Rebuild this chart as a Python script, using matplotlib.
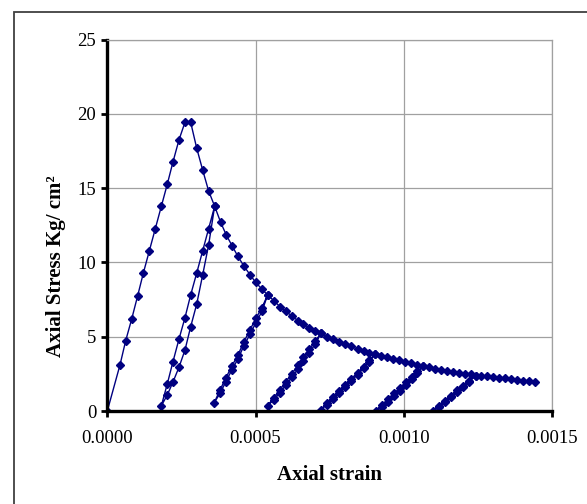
import numpy as np
import matplotlib
matplotlib.use("Agg")
import matplotlib.pyplot as plt
from matplotlib.patches import Rectangle

plt.rcParams['font.family'] = ['Liberation Serif', 'DejaVu Serif']

# strain values are given in units of 1e-4, stress in Kg/cm2
# rising branch, peak and first part of softening (up to loop A apex)
rise_strain = [0, 0.428, 0.620, 0.823, 1.025, 1.214, 1.416, 1.618, 1.821,
               2.023, 2.215, 2.417, 2.620, 2.812, 3.014, 3.216, 3.419, 3.621]
rise_stress = [0, 3.10, 4.73, 6.19, 7.76, 9.27, 10.77, 12.25, 13.78,
               15.26, 16.76, 18.24, 19.43, 19.43, 17.70, 16.22, 14.80, 13.78]

# loop A: unload then reload
loop_a_strain = [3.419, 3.216, 3.014, 2.812, 2.620, 2.417, 2.215, 2.023, 1.821,
                 2.023, 2.215, 2.417, 2.620, 2.812, 3.014, 3.216, 3.419, 3.621]
loop_a_stress = [11.19, 9.15, 7.18, 5.67, 4.10, 2.94, 1.95, 1.08, 0.34,
                 1.82, 3.32, 4.83, 6.28, 7.81, 9.27, 10.77, 12.25, 13.78]

env_b_strain = [3.823, 4.012, 4.214, 4.407, 4.609, 4.811, 5.003, 5.216, 5.408]
env_b_stress = [12.70, 11.85, 11.10, 10.40, 9.75, 9.18, 8.66, 8.20, 7.81]

loop_b_strain = [5.216, 5.013, 4.811, 4.609, 4.407, 4.204, 4.002, 3.800, 3.607,
                 3.800, 4.002, 4.204, 4.407, 4.609, 4.811, 5.013, 5.216, 5.408]
loop_b_stress = [6.70, 5.95, 5.15, 4.40, 3.50, 2.78, 1.98, 1.18, 0.56,
                 1.41, 2.24, 3.03, 3.77, 4.66, 5.45, 6.24, 6.95, 7.81]

env_c_strain = [5.620, 5.823, 6.025, 6.227, 6.430, 6.608, 6.810, 7.013, 7.205]
env_c_stress = [7.42, 7.02, 6.71, 6.39, 6.08, 5.85, 5.61, 5.38, 5.23]

loop_c_strain = [7.013, 6.810, 6.608, 6.430, 6.227, 6.025, 5.823, 5.620, 5.408,
                 5.620, 5.823, 6.025, 6.227, 6.430, 6.608, 6.810, 7.013, 7.205]
loop_c_stress = [4.50, 3.92, 3.36, 2.82, 2.28, 1.75, 1.24, 0.76, 0.36,
                 0.90, 1.44, 1.98, 2.52, 3.07, 3.61, 4.15, 4.69, 5.23]

env_d_strain = [7.407, 7.620, 7.822, 8.024, 8.226, 8.442, 8.645, 8.833, 9.036]
env_d_stress = [5.00, 4.83, 4.64, 4.49, 4.35, 4.17, 4.04, 3.92, 3.82]

loop_d_strain = [8.833, 8.645, 8.442, 8.226, 8.024, 7.822, 7.620, 7.407, 7.205,
                 7.407, 7.620, 7.822, 8.024, 8.226, 8.442, 8.645, 8.833, 9.036]
loop_d_stress = [3.30, 2.88, 2.45, 2.03, 1.62, 1.20, 0.80, 0.42, 0.10,
                 0.51, 0.93, 1.34, 1.75, 2.17, 2.58, 2.99, 3.41, 3.82]

env_e_strain = [9.238, 9.440, 9.642, 9.845, 10.047, 10.249, 10.452, 10.654]
env_e_stress = [3.70, 3.61, 3.50, 3.41, 3.30, 3.21, 3.12, 3.03]

loop_e_strain = [10.458, 10.261, 10.064, 9.868, 9.671, 9.474, 9.277, 9.080,
                 9.277, 9.474, 9.671, 9.868, 10.064, 10.261, 10.458, 10.654]
loop_e_stress = [2.55, 2.15, 1.76, 1.37, 0.99, 0.62, 0.30, 0.0,
                 0.42, 0.80, 1.18, 1.55, 1.92, 2.29, 2.66, 3.03]

env_f_strain = [10.856, 11.059, 11.251, 11.453, 11.655, 11.858, 12.060, 12.262, 12.421]
env_f_stress = [2.94, 2.85, 2.78, 2.71, 2.64, 2.58, 2.52, 2.46, 2.38]

loop_f_strain = [12.217, 12.012, 11.808, 11.603, 11.399, 11.194, 10.990,
                 11.194, 11.399, 11.603, 11.808, 12.012, 12.217, 12.421]
loop_f_stress = [1.98, 1.62, 1.27, 0.92, 0.58, 0.26, 0.0,
                 0.36, 0.70, 1.04, 1.38, 1.71, 2.05, 2.38]

tail_strain = [12.609, 12.812, 13.014, 13.216, 13.418, 13.621, 13.823, 14.025, 14.228, 14.430]
tail_stress = [2.36, 2.33, 2.29, 2.24, 2.19, 2.15, 2.10, 2.05, 2.00, 1.92]

x_ticks = [0, 0.0005, 0.0010, 0.0015]
y_ticks = [0, 5, 10, 15, 20, 25]

# join everything in test order, like a single spreadsheet series
strain = np.concatenate([rise_strain, loop_a_strain, env_b_strain, loop_b_strain,
                         env_c_strain, loop_c_strain, env_d_strain, loop_d_strain,
                         env_e_strain, loop_e_strain, env_f_strain, loop_f_strain,
                         tail_strain]) * 1e-4
stress = np.concatenate([rise_stress, loop_a_stress, env_b_stress, loop_b_stress,
                         env_c_stress, loop_c_stress, env_d_stress, loop_d_stress,
                         env_e_stress, loop_e_stress, env_f_stress, loop_f_stress,
                         tail_stress])

fig = plt.figure(figsize=(5.87, 5.04), dpi=100)
ax = fig.add_axes([107.3 / 587, 1 - 411 / 504, (552 - 107.3) / 587, (411 - 39.5) / 504])

# outer chart frame (right and bottom edges fall outside the picture)
fig.add_artist(Rectangle((14 / 587, -0.1), 1.2, 1 - 12 / 504 + 0.1,
                         transform=fig.transFigure, fill=False,
                         edgecolor='#404040', linewidth=1.3))

ax.plot(strain, stress, color='#000080', linewidth=1.0, marker='D',
        markersize=3.8, markerfacecolor='#000080', markeredgecolor='#000080',
        clip_on=True)

ax.set_xlim(0, 0.0015)
ax.set_ylim(0, 25)
ax.set_xticks(x_ticks)
ax.set_xticklabels([f'{v:.4f}' for v in x_ticks])
ax.set_yticks(y_ticks)

ax.grid(True, color='#a0a0a0', linewidth=0.9)
ax.set_axisbelow(True)

for side in ['top', 'right']:
    ax.spines[side].set_color('#a0a0a0')
    ax.spines[side].set_linewidth(0.9)
for side in ['left', 'bottom']:
    ax.spines[side].set_color('black')
    ax.spines[side].set_linewidth(2.4)

ax.tick_params(axis='both', direction='out', length=4, width=2, colors='black',
               labelsize=13.5)
ax.tick_params(axis='x', pad=10)
ax.tick_params(axis='y', pad=4)

ax.set_xlabel('Axial strain', fontsize=15, fontweight='bold')
ax.xaxis.set_label_coords(0.5, -0.145)
ax.set_ylabel('Axial Stress Kg/ cm²', fontsize=15, fontweight='bold', va='center')
ax.yaxis.set_label_coords(-(107.3 - 56) / (552 - 107.3), (411 - 266) / 371.5)

plt.savefig('out.png', dpi=100)
plt.close()
